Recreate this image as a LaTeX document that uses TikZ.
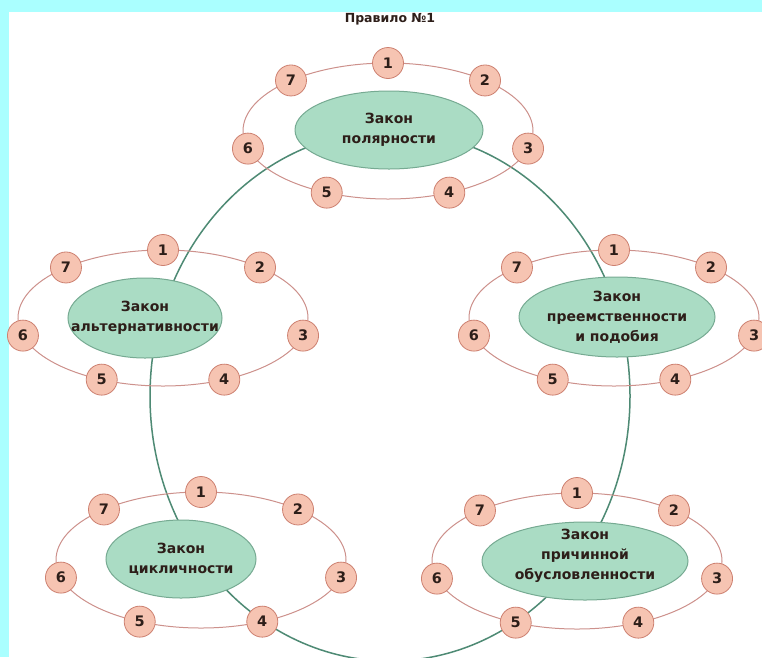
\documentclass[tikz,border=0pt]{standalone}
\usepackage{fontspec}
\setmainfont{DejaVu Sans}
\usepackage{tikz}
\usetikzlibrary{shapes.geometric}

\definecolor{fon}{RGB}{170,255,255}
\definecolor{krug}{RGB}{246,196,178}
\definecolor{krugline}{RGB}{205,128,112}
\definecolor{kolco}{RGB}{205,145,140}
\definecolor{zelen}{RGB}{170,220,196}
\definecolor{zelenline}{RGB}{118,170,146}
\definecolor{cikl}{RGB}{78,138,116}
\definecolor{tekst}{RGB}{45,30,25}

\tikzset{
    num/.style={circle, draw=krugline, fill=krug, line width=0.8pt, minimum size=31pt,
        inner sep=0pt, text=tekst, font=\bfseries\fontsize{14.5}{14.5}\selectfont},
    ring/.style={ellipse, draw=kolco, line width=1pt, minimum width=290pt,
        minimum height=136pt, inner sep=0pt},
    zakon/.style={ellipse, draw=zelenline, fill=zelen, line width=1pt, inner sep=0pt},
    txt/.style={align=center, text=tekst, font=\bfseries\fontsize{14}{20}\selectfont},
}

\begin{document}
\begin{tikzpicture}[x=1pt, y=-1pt]
    \clip (0,0) rectangle (762,657);
    \fill[fon] (0,0) rectangle (762,657);
    \fill[white] (9,12) rectangle (762,657);
    \node[text=tekst, font=\bfseries\fontsize{12.5}{12.5}\selectfont] (title) at (390,19) {Правило №1};

    \node[ellipse, draw=cikl, line width=1.5pt, minimum width=480pt, minimum height=530pt] (krugC) at (390,396) {};

    \foreach \c/\x/\y in {pol/388/131, alt/163/318, pre/614/318, cik/201/560, pri/577/561} {
        \node[ring] (\c R) at (\x,\y) {};
        \foreach \n/\a in {1/90, 2/48, 3/-15, 4/-65, 5/-115, 6/195, 7/132}
            \node[num] (\c\n) at ({\x+145*cos(\a)},{\y-68*sin(\a)}) {\n};
    }

    \node[zakon, minimum width=188pt, minimum height=78pt] (pol) at (389,130) {};
    \node[zakon, minimum width=154pt, minimum height=80pt] (alt) at (145,318) {};
    \node[zakon, minimum width=196pt, minimum height=80pt] (pre) at (617,317) {};
    \node[zakon, minimum width=150pt, minimum height=78pt] (cik) at (181,559) {};
    \node[zakon, minimum width=206pt, minimum height=78pt] (pri) at (585,561) {};

    \node[txt] (polT) at (pol) {Закон\\полярности};
    \node[txt] (altT) at (alt) {Закон\\альтернативности};
    \node[txt] (preT) at (pre) {Закон\\преемственности\\и подобия};
    \node[txt] (cikT) at (cik) {Закон\\цикличности};
    \node[txt] (priT) at ([yshift=5pt]pri.center) {Закон\\причинной\\обусловленности};
\end{tikzpicture}
\end{document}
